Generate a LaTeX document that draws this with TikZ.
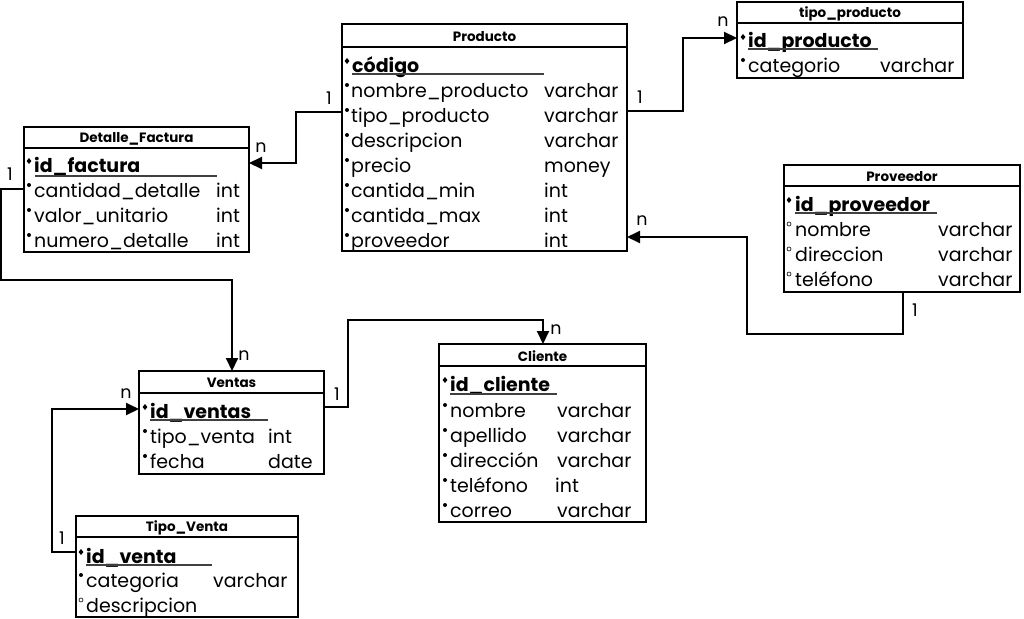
\documentclass[tikz,border=0pt]{standalone}
\usepackage{fontspec}
\setmainfont{Poppins}
\usetikzlibrary{arrows.meta,calc}

% punto de clave (rombo) y punto de campo
\newcommand{\pkdot}[2]{\fill (#1,#2) ++(0,-3) -- ++(2.4,3) -- ++(-2.4,3) -- ++(-2.4,-3) -- cycle;}
\newcommand{\fdot}[2]{\fill (#1,#2) circle (2);}
\newcommand{\hdot}[2]{\draw[line width=0.6pt] (#1,#2) circle (2);}

\begin{document}
\begin{tikzpicture}[
	x=1pt, y=-1pt,
	tabla/.style={draw, line width=2pt, anchor=north west, inner sep=0pt, outer sep=0pt},
	titulo/.style={font=\fontsize{13.5}{15}\selectfont\bfseries, inner sep=0pt, yshift=-1pt},
	campo/.style={anchor=base west, inner sep=0pt, font=\fontsize{19}{22}\selectfont, yshift=-1pt},
	clave/.style={campo, font=\fontsize{19}{22}\selectfont\bfseries},
	subraya/.style={line width=1.4pt, black!75},
	rel/.style={line width=2pt, -{Triangle[length=13pt,width=12pt]}},
	card/.style={font=\fontsize{17.5}{19}\selectfont, inner sep=0pt}
	]
	\useasboundingbox (0,0) rectangle (1024,618);

	% --- PRODUCTO ---
	\node[tabla, minimum width=285pt, minimum height=227pt] (producto) at (342,24) {};
	\draw[line width=2pt] ($(producto.north west)+(0,23)$) -- ($(producto.north east)+(0,23)$);
	\node[titulo] (producto-t) at ($(producto.north)+(0,12)$) {Producto};
	\pkdot{347}{61}
	\node[clave] (producto-k) at (352,71) {código};
	\draw[subraya] (352,74) -- (544,74);
	\foreach \campo/\tipo [count=\i] in {nombre\_producto/varchar, tipo\_producto/varchar,
		descripcion/varchar, precio/money, cantida\_min/int, cantida\_max/int, proveedor/int}{
		\fdot{347}{65+25*\i-5}
		\node[campo] (producto-\i) at (351,65+25*\i+6) {\campo};
		\node[campo] (producto-\i t) at (544,65+25*\i+6) {\tipo};
	}

	% --- TIPO_PRODUCTO ---
	\node[tabla, minimum width=226pt, minimum height=76pt] (tipoprod) at (737,2) {};
	\draw[line width=2pt] ($(tipoprod.north west)+(0,21)$) -- ($(tipoprod.north east)+(0,21)$);
	\node[titulo] (tipoprod-t) at ($(tipoprod.north)+(0,11)$) {tipo\_producto};
	\pkdot{743}{37}
	\node[clave] (tipoprod-k) at (748,47) {id\_producto};
	\draw[subraya] (748,49) -- (878,49);
	\fdot{743}{60}
	\node[campo] (tipoprod-1) at (748,71) {categorio};
	\node[campo] (tipoprod-1t) at (880,71) {varchar};

	% --- DETALLE_FACTURA ---
	\node[tabla, minimum width=225pt, minimum height=125pt] (detalle) at (24,127) {};
	\draw[line width=2pt] ($(detalle.north west)+(0,21)$) -- ($(detalle.north east)+(0,21)$);
	\node[titulo] (detalle-t) at ($(detalle.north)+(0,11)$) {Detalle\_Factura};
	\pkdot{29}{161}
	\node[clave] (detalle-k) at (34,171) {id\_factura};
	\draw[subraya] (35,176) -- (217,176);
	\foreach \campo/\tipo [count=\i] in {cantidad\_detalle/int, valor\_unitario/int, numero\_detalle/int}{
		\fdot{29}{165+25*\i-5}
		\node[campo] (detalle-\i) at (34,165+25*\i+6) {\campo};
		\node[campo] (detalle-\i t) at (216,165+25*\i+6) {\tipo};
	}

	% --- PROVEEDOR ---
	\node[tabla, minimum width=236pt, minimum height=127pt] (proveedor) at (784,165) {};
	\draw[line width=2pt] ($(proveedor.north west)+(0,21)$) -- ($(proveedor.north east)+(0,21)$);
	\node[titulo] (proveedor-t) at ($(proveedor.north)+(0,11)$) {Proveedor};
	\pkdot{789}{200}
	\node[clave] (proveedor-k) at (795,210) {id\_proveedor};
	\draw[subraya] (795,213) -- (937,213);
	\foreach \campo/\tipo [count=\i] in {nombre/varchar, direccion/varchar, teléfono/varchar}{
		\hdot{789}{204+25*\i-5}
		\node[campo] (proveedor-\i) at (795,204+25*\i+6) {\campo};
		\node[campo] (proveedor-\i t) at (938,204+25*\i+6) {\tipo};
	}

	% --- VENTAS ---
	\node[tabla, minimum width=185pt, minimum height=103pt] (ventas) at (139,371) {};
	\draw[line width=2pt] ($(ventas.north west)+(0,22)$) -- ($(ventas.north east)+(0,22)$);
	\node[titulo] (ventas-t) at ($(ventas.north)+(0,11)$) {Ventas};
	\pkdot{145}{407}
	\node[clave] (ventas-k) at (150,417) {id\_ventas};
	\draw[subraya] (150,420) -- (268,420);
	\foreach \campo/\tipo [count=\i] in {tipo\_venta/int, fecha/date}{
		\fdot{145}{411+25*\i-5}
		\node[campo] (ventas-\i) at (150,411+25*\i+6) {\campo};
	}
	\node[campo] (ventas-1t) at (268,442) {int};
	\node[campo] (ventas-2t) at (268,467) {date};

	% --- CLIENTE ---
	\node[tabla, minimum width=207pt, minimum height=178pt] (cliente) at (439,344) {};
	\draw[line width=2pt] ($(cliente.north west)+(0,22)$) -- ($(cliente.north east)+(0,22)$);
	\node[titulo] (cliente-t) at ($(cliente.north)+(0,11)$) {Cliente};
	\pkdot{445}{380}
	\node[clave] (cliente-k) at (450,390) {id\_cliente};
	\draw[subraya] (450,394) -- (557,394);
	\foreach \campo/\tipo [count=\i] in {nombre/varchar, apellido/varchar, dirección/varchar,
		teléfono/int, correo/varchar}{
		\fdot{445}{385+25*\i-5}
		\node[campo] (cliente-\i) at (450,385+25*\i+6) {\campo};
	}
	\node[campo] (cliente-1t) at (557,416) {varchar};
	\node[campo] (cliente-2t) at (557,441) {varchar};
	\node[campo] (cliente-3t) at (557,466) {varchar};
	\node[campo] (cliente-4t) at (555,491) {int};
	\node[campo] (cliente-5t) at (557,516) {varchar};

	% --- TIPO_VENTA ---
	\node[tabla, minimum width=222pt, minimum height=101pt] (tipoventa) at (76,516) {};
	\draw[line width=2pt] ($(tipoventa.north west)+(0,21)$) -- ($(tipoventa.north east)+(0,21)$);
	\node[titulo] (tipoventa-t) at ($(tipoventa.north)+(0,11)$) {Tipo\_Venta};
	\pkdot{81}{552}
	\node[clave] (tipoventa-k) at (86,562) {id\_venta};
	\draw[subraya] (86,565) -- (212,565);
	\fdot{81}{575}
	\node[campo] (tipoventa-1) at (86,586) {categoria};
	\node[campo] (tipoventa-1t) at (213,586) {varchar};
	\hdot{81}{600}
	\node[campo] (tipoventa-2) at (86,611) {descripcion};

	% --- RELACIONES ---
	\draw[rel] (producto.west |- 0,112) -| (296,163) -- (detalle.east |- 0,163);
	\node[card] (c1a) at (329,98) {1};
	\node[card] (c1b) at (261,148) {n};

	\draw[rel] (producto.east |- 0,111) -| (683,38) -- (tipoprod.west |- 0,38);
	\node[card] (c2a) at (640,97) {1};
	\node[card] (c2b) at (723,22) {n};

	\draw[rel] (proveedor.south -| 903,0) |- (747,334) |- (producto.east |- 0,237);
	\node[card] (c3a) at (915,310) {1};
	\node[card] (c3b) at (642,221) {n};

	\draw[rel] (detalle.west |- 0,189) -| (1,280) -| (ventas.north -| 232,0);
	\node[card] (c4a) at (10,174) {1};
	\node[card] (c4b) at (244,356) {n};

	\draw[rel] (ventas.east |- 0,407) -| (348,320) -| (cliente.north -| 543,0);
	\node[card] (c5a) at (337,394) {1};
	\node[card] (c5b) at (556,330) {n};

	\draw[rel] (tipoventa.west |- 0,552) -| (52,409) -- (ventas.west |- 0,409);
	\node[card] (c6a) at (62,538) {1};
	\node[card] (c6b) at (126,394) {n};
\end{tikzpicture}
\end{document}
